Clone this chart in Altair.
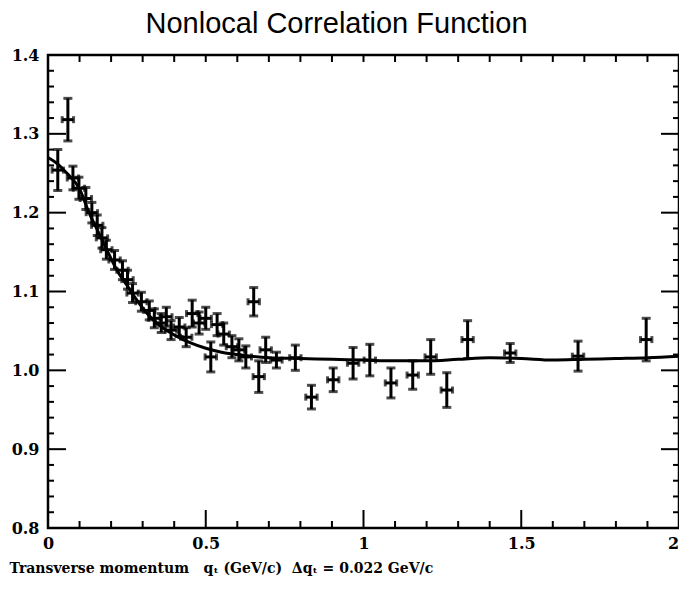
import altair as alt
import pandas as pd

# ---- data ----
q_pts = [0.031, 0.063, 0.079, 0.098, 0.120, 0.139, 0.156, 0.171, 0.185, 0.211,
         0.236, 0.252, 0.268, 0.296, 0.321, 0.337, 0.359, 0.375, 0.390, 0.416,
         0.438, 0.457, 0.479, 0.500, 0.516, 0.536, 0.557, 0.583, 0.605, 0.627,
         0.652, 0.668, 0.690, 0.724, 0.784, 0.835, 0.904, 0.967, 1.020, 1.087,
         1.156, 1.213, 1.264, 1.330, 1.465, 1.680, 1.896]
v_pts = [1.254, 1.318, 1.244, 1.231, 1.218, 1.200, 1.184, 1.168, 1.153, 1.140,
         1.127, 1.115, 1.098, 1.087, 1.076, 1.066, 1.060, 1.068, 1.051, 1.055,
         1.042, 1.072, 1.060, 1.066, 1.017, 1.058, 1.046, 1.030, 1.026, 1.017,
         1.087, 0.992, 1.026, 1.013, 1.016, 0.966, 0.988, 1.009, 1.013, 0.984,
         0.994, 1.017, 0.975, 1.039, 1.022, 1.018, 1.039]
e_pts = [0.026, 0.027, 0.015, 0.014, 0.014, 0.013, 0.013, 0.013, 0.012, 0.012,
         0.012, 0.012, 0.012, 0.012, 0.012, 0.012, 0.012, 0.012, 0.012, 0.012,
         0.012, 0.017, 0.014, 0.014, 0.019, 0.014, 0.014, 0.014, 0.014, 0.014,
         0.018, 0.020, 0.016, 0.010, 0.016, 0.015, 0.015, 0.020, 0.020, 0.019,
         0.018, 0.022, 0.022, 0.024, 0.012, 0.019, 0.027]
q_half = 0.018

fit_q = [0.0, 0.03, 0.06, 0.10, 0.13, 0.16, 0.19, 0.22, 0.25, 0.28, 0.31, 0.35,
         0.40, 0.45, 0.50, 0.55, 0.60, 0.70, 0.80, 0.90, 1.00, 1.10, 1.20, 1.30,
         1.40, 1.50, 1.60, 1.70, 1.80, 1.90, 2.00]
fit_v = [1.270, 1.262, 1.250, 1.230, 1.200, 1.175, 1.150, 1.126, 1.108, 1.090,
         1.074, 1.058, 1.045, 1.035, 1.028, 1.023, 1.020, 1.016, 1.015, 1.014,
         1.013, 1.012, 1.012, 1.014, 1.016, 1.015, 1.013, 1.014, 1.015, 1.016, 1.018]

x_label_vals = [0, 0.5, 1, 1.5, 2]
y_label_vals = [0.8, 0.9, 1.0, 1.1, 1.2, 1.3, 1.4]
x_major_ticks = [0.5, 1.0, 1.5]
x_minor_ticks = [0.1, 0.2, 0.3, 0.4, 0.6, 0.7, 0.8, 0.9, 1.1, 1.2, 1.3, 1.4,
                 1.6, 1.7, 1.8, 1.9]
y_major_ticks = [0.9, 1.0, 1.1, 1.2, 1.3]
y_minor_ticks = [0.82, 0.84, 0.86, 0.88, 0.92, 0.94, 0.96, 0.98, 1.02, 1.04,
                 1.06, 1.08, 1.12, 1.14, 1.16, 1.18, 1.22, 1.24, 1.26, 1.28,
                 1.32, 1.34, 1.36, 1.38]

W, H = 631, 473
SERIF = "DejaVu Serif"
NB = "\u00a0"
x_title = ("Transverse momentum" + NB * 3 + "qₜ (GeV/c)" + NB * 2 + "Δqₜ = 0.022 GeV/c")

pts = pd.DataFrame({"q": q_pts, "v": v_pts, "e": e_pts})
pts["vlo"] = pts["v"] - pts["e"]
pts["vhi"] = pts["v"] + pts["e"]
pts["qlo"] = pts["q"] - q_half
pts["qhi"] = pts["q"] + q_half
fit = pd.DataFrame({"q": fit_q, "v": fit_v})

xs = alt.Scale(domain=[0, 2], nice=False, zero=False)
ys = alt.Scale(domain=[0.8, 1.4], nice=False, zero=False)

xaxis = alt.Axis(values=x_label_vals, format="~g", ticks=False, domain=False, grid=False,
                 labelFont=SERIF, labelFontWeight="bold", labelFontSize=16,
                 labelColor="black", labelPadding=7, labelFlush=False,
                 labelOffset=alt.condition("datum.value == 2", alt.value(-6), alt.value(0)),
                 title=x_title,
                 titleFont=SERIF, titleFontWeight="bold", titleFontSize=14,
                 titleColor="black", titleAnchor="start", titleAlign="left",
                 titleX=-39, titleY=44, titleBaseline="alphabetic")
yaxis = alt.Axis(values=y_label_vals, format=".1f", ticks=False, domain=False, grid=False,
                 labelFont=SERIF, labelFontWeight="bold", labelFontSize=16,
                 labelColor="black", labelPadding=9, labelFlush=False, title=None)

def X(f):
    return alt.X(f, type="quantitative", scale=xs, axis=xaxis)

def Y(f):
    return alt.Y(f, type="quantitative", scale=ys, axis=yaxis)

K = "black"
SW = 3
curve = alt.Chart(fit).mark_line(color=K, strokeWidth=3, interpolate="monotone").encode(
    x=X("q"), y=Y("v"))
vbar = alt.Chart(pts).mark_rule(color=K, strokeWidth=SW).encode(
    x=X("q"), y=Y("vlo"), y2="vhi")
hbar = alt.Chart(pts).mark_rule(color=K, strokeWidth=SW).encode(
    x=X("qlo"), x2="qhi", y=Y("v"))
cap_lo = alt.Chart(pts).mark_tick(color=K, orient="horizontal", size=9, thickness=SW).encode(
    x=X("q"), y=Y("vlo"))
cap_hi = alt.Chart(pts).mark_tick(color=K, orient="horizontal", size=9, thickness=SW).encode(
    x=X("q"), y=Y("vhi"))
cap_l = alt.Chart(pts).mark_tick(color=K, orient="vertical", size=7, thickness=SW).encode(
    x=X("qlo"), y=Y("v"))
cap_r = alt.Chart(pts).mark_tick(color=K, orient="vertical", size=7, thickness=SW).encode(
    x=X("qhi"), y=Y("v"))

def xticks(vals, y0, y1):
    d = pd.DataFrame({"t": vals})
    return alt.Chart(d).mark_rule(color=K, strokeWidth=2).encode(
        x=X("t"), y=alt.value(y0), y2=alt.value(y1))

def yticks(vals, x0, x1):
    d = pd.DataFrame({"t": vals})
    return alt.Chart(d).mark_rule(color=K, strokeWidth=2).encode(
        y=Y("t"), x=alt.value(x0), x2=alt.value(x1))

ticks = [
    xticks(x_major_ticks, H, H - 18),
    xticks(x_minor_ticks, H, H - 7),
    xticks(x_major_ticks + x_minor_ticks, 0, 7),
    yticks(y_major_ticks, 0, 18),
    yticks(y_minor_ticks, 0, 6),
    yticks(y_major_ticks, W, W - 18),
    yticks(y_minor_ticks, W, W - 6),
]

chart = alt.layer(curve, vbar, hbar, cap_lo, cap_hi, cap_l, cap_r, *ticks).properties(
    width=W, height=H,
    autosize=alt.AutoSizeParams(type="none"),
    padding={"left": 40, "top": 47, "right": 0, "bottom": 58},
    title=alt.TitleParams("Nonlocal Correlation Function", font="Liberation Sans",
                          fontSize=29, fontWeight="normal", color="black",
                          anchor="middle", dx=-27, offset=8),
    background="white",
).configure_view(stroke="black", strokeWidth=2.5)

chart.save("out.html", embed_options={"renderer": "svg", "actions": False})
